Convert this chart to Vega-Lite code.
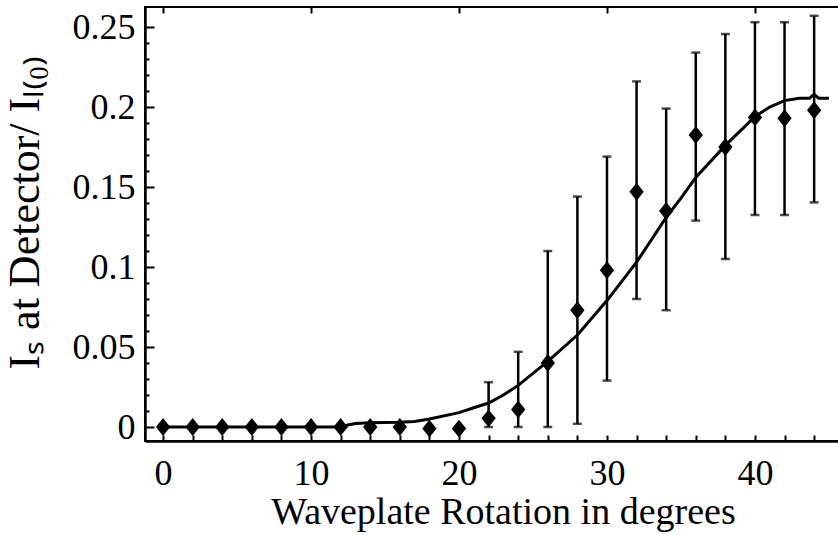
{
  "$schema": "https://vega.github.io/schema/vega-lite/v6.json",
  "autosize": {"type": "none"},
  "padding": {"left": 145, "top": 7, "right": 0, "bottom": 94},
  "width": 694,
  "height": 434,
  "background": "white",
  "config": {
    "view": {"stroke": "black", "strokeWidth": 2},
    "font": "Liberation Serif",
    "axis": {"labelFont": "Liberation Serif", "titleFont": "Liberation Serif", "labelColor": "black", "titleColor": "black", "domainColor": "black", "tickColor": "black", "grid": false, "titleFontWeight": "normal", "labelOverlap": false}
  },
  "datasets": {
    "obs": [
      {"deg": 0, "v": 0}, {"deg": 2, "v": 0}, {"deg": 4, "v": 0}, {"deg": 6, "v": 0},
      {"deg": 8, "v": 0}, {"deg": 10, "v": 0}, {"deg": 12, "v": 0}, {"deg": 14, "v": 0},
      {"deg": 16, "v": 0}, {"deg": 18, "v": -0.001}, {"deg": 20, "v": -0.001},
      {"deg": 22, "v": 0.0054, "lo": 0, "hi": 0.028},
      {"deg": 24, "v": 0.011, "lo": 0, "hi": 0.047},
      {"deg": 26, "v": 0.040, "lo": 0, "hi": 0.110},
      {"deg": 28, "v": 0.073, "lo": 0.002, "hi": 0.144},
      {"deg": 30, "v": 0.098, "lo": 0.029, "hi": 0.169},
      {"deg": 32, "v": 0.147, "lo": 0.080, "hi": 0.216},
      {"deg": 34, "v": 0.135, "lo": 0.073, "hi": 0.199},
      {"deg": 36, "v": 0.1825, "lo": 0.129, "hi": 0.234},
      {"deg": 38, "v": 0.175, "lo": 0.105, "hi": 0.2456},
      {"deg": 40, "v": 0.1935, "lo": 0.1325, "hi": 0.253},
      {"deg": 42, "v": 0.193, "lo": 0.1325, "hi": 0.253},
      {"deg": 44, "v": 0.198, "lo": 0.1404, "hi": 0.257}
    ],
    "fit": [
      {"deg": 0, "f": 0}, {"deg": 12, "f": 0}, {"deg": 12.5, "f": 0.0012}, {"deg": 13, "f": 0.0022},
      {"deg": 14, "f": 0.0027}, {"deg": 16, "f": 0.003}, {"deg": 17, "f": 0.0035}, {"deg": 18, "f": 0.005},
      {"deg": 20, "f": 0.009}, {"deg": 21, "f": 0.012}, {"deg": 22, "f": 0.015}, {"deg": 23, "f": 0.02},
      {"deg": 24, "f": 0.026}, {"deg": 26, "f": 0.041}, {"deg": 28, "f": 0.0575}, {"deg": 30, "f": 0.079},
      {"deg": 32, "f": 0.103}, {"deg": 34, "f": 0.131}, {"deg": 35, "f": 0.143}, {"deg": 36, "f": 0.156},
      {"deg": 38, "f": 0.176}, {"deg": 40, "f": 0.194}, {"deg": 41, "f": 0.2}, {"deg": 42, "f": 0.204},
      {"deg": 43, "f": 0.2055}, {"deg": 43.7, "f": 0.2055}, {"deg": 44, "f": 0.208}, {"deg": 44.3, "f": 0.2055},
      {"deg": 45, "f": 0.2055}
    ]
  },
  "layer": [
    {
      "data": {"name": "fit"},
      "mark": {"type": "line", "color": "black", "strokeWidth": 3, "clip": true},
      "encoding": {
        "x": {"field": "deg", "type": "quantitative", "scale": {"domain": [-1.22, 45.68], "nice": false, "zero": false},
          "axis": {"orient": "bottom", "title": "Waveplate  Rotation in degrees", "values": [0,10,20,30,40],
            "ticks": false, "domainWidth": 2.5, "labelOverlap": false,
            "labelFontSize": 36, "labelPadding": 15, "titleFontSize": 38, "titlePadding": 2, "titleX": 358, "labelFlush": false}},
        "y": {"field": "f", "type": "quantitative", "title": "Iₛ at Detector/ Iₗ₍₀₎", "scale": {"domain": [-0.00875, 0.2625], "nice": false, "zero": false},
          "axis": {"title": "Iₛ at Detector/ Iₗ₍₀₎", "values": [0,0.05,0.1,0.15,0.2,0.25],
            "format": "~g", "labelOverlap": false, "ticks": false,
            "domainWidth": 2.5, "labelFontSize": 36, "labelPadding": 10, "titleFontSize": 44, "titlePadding": 25, "titleY": 205, "labelFlush": false}}
      }
    },
    {
      "data": {"name": "obs"},
      "transform": [{"filter": "isValid(datum.lo)"}],
      "mark": {"type": "errorbar", "color": "black", "ticks": {"size": 9, "thickness": 2.5, "color": "black"}, "rule": {"strokeWidth": 2.5, "color": "black"}},
      "encoding": {
        "x": {"field": "deg", "type": "quantitative", "axis": {"orient": "top", "offset": -6, "values": [0,10,20,30,40], "labels": false, "title": null, "tickSize": 6, "tickWidth": 2, "domain": false}},
        "y": {"field": "lo", "type": "quantitative", "axis": {"orient": "left", "offset": -4, "values": [0.01,0.02,0.03,0.04,0.06,0.07,0.08,0.09,0.11,0.12,0.13,0.14,0.16,0.17,0.18,0.19,0.21,0.22,0.23,0.24], "labels": false, "title": null, "tickSize": 4, "tickWidth": 2, "domain": false}},
        "y2": {"field": "hi"}
      }
    },
    {
      "data": {"name": "obs"},
      "mark": {"type": "point", "shape": "M0,-1L0.8,0L0,1L-0.8,0Z", "filled": true, "color": "black", "opacity": 1, "size": 320},
      "encoding": {
        "x": {"field": "deg", "type": "quantitative", "axis": {"orient": "bottom", "offset": -6, "values": [0,2,4,6,8,10,12,14,16,18,20,22,24,26,28,30,32,34,36,38,40,42,44], "labels": false, "title": null, "tickSize": 6, "tickWidth": 2, "domain": false}},
        "y": {"field": "v", "type": "quantitative", "axis": {"orient": "left", "offset": -9, "values": [0,0.05,0.1,0.15,0.2,0.25], "labels": false, "title": null, "tickSize": 9, "tickWidth": 2, "domain": false}}
      }
    }
  ],
  "resolve": {"axis": {"x": "independent", "y": "independent"}}
}
